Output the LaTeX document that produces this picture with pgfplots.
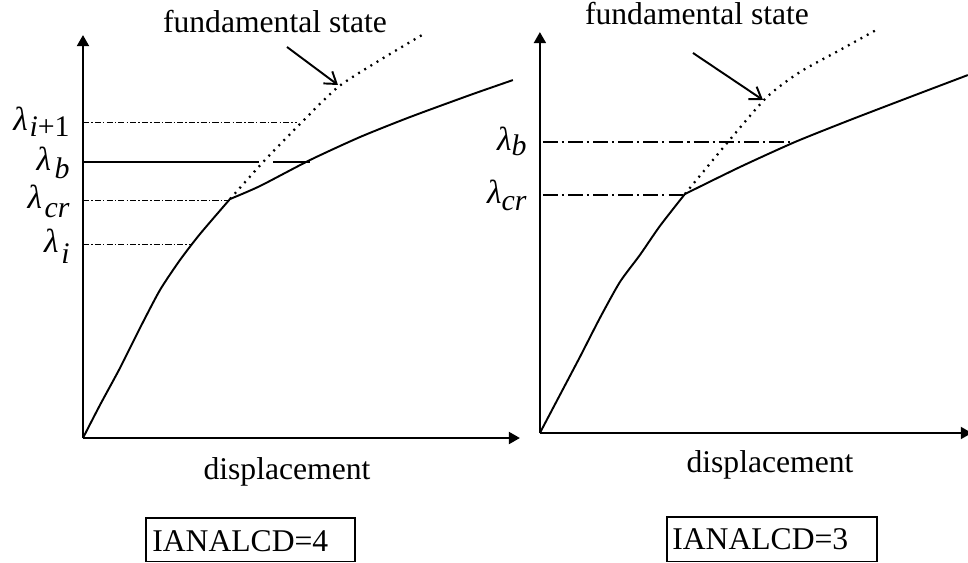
\documentclass[border=0pt]{standalone}
\usepackage{fontspec}
\setmainfont{Liberation Serif}
\usepackage{pgfplots}
\pgfplotsset{compat=1.18}
\usetikzlibrary{arrows.meta}

% lambda with a lowered subscript: kern, lowering, subscript
\newcommand\lamsub[3]{{\fontsize{19}{21}\selectfont\textit{λ}}\kern#1\raisebox{#2}{\fontsize{17}{19}\selectfont #3}}

\pgfplotsset{
  sketch/.style={
    axis lines=left,
    x axis line style={line width=1.1pt, -{Triangle[length=0.22cm,width=0.24cm]}},
    y axis line style={line width=1.1pt, -{Triangle[length=0.22cm,width=0.24cm]}},
    scale only axis,
    xmin=0, ymin=0,
    xtick=\empty,
    major tick length=0pt,
    yticklabel style={anchor=base east, inner sep=0pt, xshift=-0.26cm, yshift=-0.17cm,
      font=\fontsize{18}{21}\selectfont},
    clip=false,
  },
  curve/.style={black, line width=1.1pt, mark=none},
  fund/.style={black, line width=1.3pt, mark=none, dash pattern=on 1.1pt off 3pt},
  thindd/.style={black, line width=0.6pt, mark=none,
    dash pattern=on 3.5pt off 1.2pt on 0.8pt off 1.2pt},
  thickdd/.style={black, line width=1.1pt, mark=none,
    dash pattern=on 8.5pt off 2.3pt on 1.2pt off 2.3pt},
}

\begin{document}
\begin{tikzpicture}[x=0.02cm, y=0.02cm]
\useasboundingbox (0,0) rectangle (968,563);

% ---- left panel (IANALCD=4)
\begin{axis}[sketch,
  at={(83,125)}, anchor=south west,
  width=8.74cm, height=8.06cm,
  xmax=437, ymax=403,
  ytick={194,238,276,316},
  yticklabels={{\lamsub{1.5pt}{-6pt}{\textit{i}}},
               {\lamsub{1.5pt}{-5pt}{\textit{cr}}},
               {\lamsub{2pt}{-4.5pt}{\textit{b}}\hspace{5pt}},
               {\lamsub{1pt}{-3.5pt}{\textit{i}+1}}},
]
\addplot[curve, smooth, tension=0.4] coordinates {(0,0)(17,33)(37,70)(57,110)(77,148)(97,178)(117,204)(147,239)};
\addplot[curve, smooth, tension=0.4] coordinates {(147,239)(177,252)(227,278)(277,301)(327,321)(387,343)(430,358)};
\addplot[fund, smooth, tension=0.4] coordinates {(147,239)(182,278)(217,314)(255,351)(297,378)(339,403)};
\addplot[thindd] coordinates {(0,316)(214,316)};
\addplot[curve, line width=0.8pt] coordinates {(0,276)(176,276)};
\addplot[curve, line width=0.8pt] coordinates {(190,276)(227,276)};
\addplot[thindd] coordinates {(0,238)(147,238)};
\addplot[thindd] coordinates {(0,194)(109,194)};
\end{axis}

% ---- right panel (IANALCD=3)
\begin{axis}[sketch,
  at={(540,130)}, anchor=south west,
  width=8.64cm, height=8.02cm,
  xmax=432, ymax=401,
  ytick={238,291},
  yticklabels={{\lamsub{0pt}{-4pt}{\textit{cr}}},
               {\lamsub{0pt}{-3pt}{\textit{b}}}},
]
\addplot[curve, smooth, tension=0.4] coordinates {(0,0)(20,38)(40,76)(60,115)(80,151)(100,178)(120,207)(145,239)};
\addplot[curve, smooth, tension=0.4] coordinates {(145,239)(200,266)(255,291)(310,313)(370,336)(428,358)};
\addplot[fund, smooth, tension=0.4] coordinates {(145,239)(188,291)(227,336)(260,361)(300,383)(338,404)};
\addplot[thickdd] coordinates {(3,291)(253,291)};
\addplot[thickdd] coordinates {(3,238)(145,238)};
\end{axis}

% ---- annotations
\begin{scope}[font=\fontsize{18}{21}\selectfont]
\node[anchor=base] at (275,530) {fundamental state};
\node[anchor=base] at (697,538) {fundamental state};
\draw[line width=1.1pt, -{Straight Barb[length=0.22cm,width=0.3cm]}] (287,516) -- (338,478);
\draw[line width=1.1pt, -{Straight Barb[length=0.22cm,width=0.3cm]}] (693,510) -- (763,463);
\node[anchor=base] at (287,83) {displacement};
\node[anchor=base] at (770,90) {displacement};
\draw[line width=0.9pt] (146,45) rectangle (355,1.5);
\node[anchor=base west, inner sep=0pt] at (152,11) {IANALCD=4};
\draw[line width=0.9pt] (667,46) rectangle (877,1.5);
\node[anchor=base west, inner sep=0pt] at (672,13) {IANALCD=3};
\end{scope}
\end{tikzpicture}
\end{document}
